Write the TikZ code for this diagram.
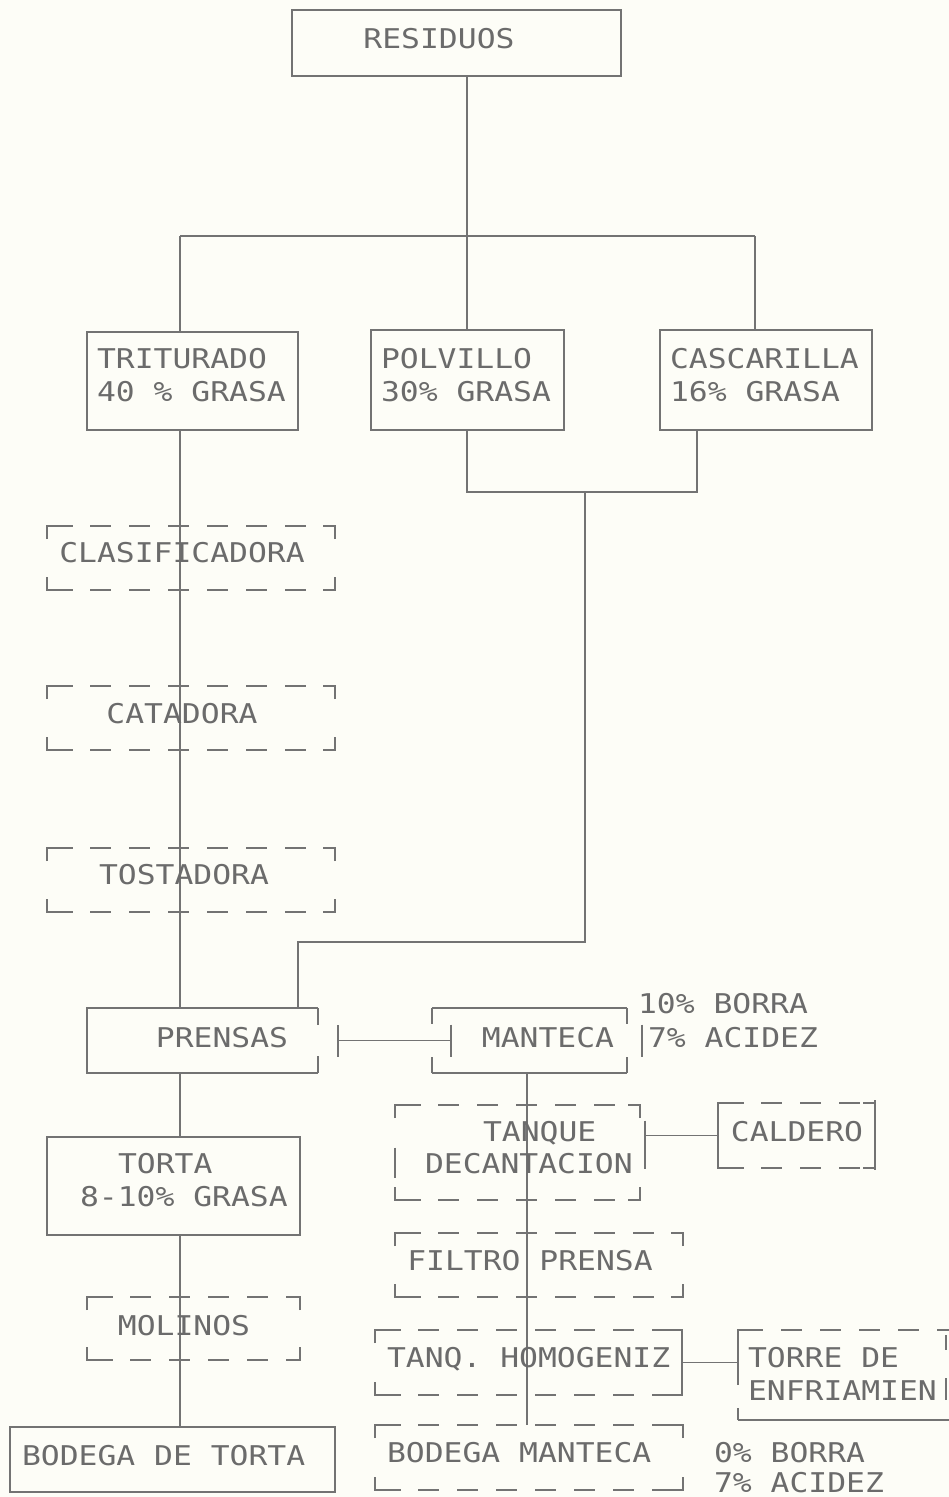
\documentclass[tikz,border=0pt]{standalone}
\usepackage{fontspec}
\usepackage{graphicx}
\usetikzlibrary{fit,calc,arrows.meta}
\newfontfamily\dmfont{DejaVu Sans Mono}
\definecolor{lc}{gray}{0.45}
\definecolor{tc}{gray}{0.42}
\definecolor{bgc}{RGB}{253,253,247}
\newcommand\dmt[1]{\scalebox{0.98}[0.85]{#1}}
\newcommand\mkbox[5]{\node[fit={(#2,#3) (#4,#5)}, inner sep=0pt, outer sep=0pt] (#1) {};}
\newcommand\solidbox[1]{\draw[ln] (#1.north west) rectangle (#1.south east);}
\newcommand\dashtb[1]{\draw[dsh] (#1.north west) -- (#1.north east);
  \draw[dsh] (#1.south west) -- (#1.south east);}
\newcommand\cornerticks[1]{%
  \draw[ln] ([yshift=-13pt]#1.north west) -- (#1.north west) -- ([xshift=26pt]#1.north west);
  \draw[ln] ([yshift=-13pt]#1.north east) -- (#1.north east) -- ([xshift=-12pt]#1.north east);
  \draw[ln] ([yshift=13pt]#1.south west) -- (#1.south west) -- ([xshift=26pt]#1.south west);
  \draw[ln] ([yshift=13pt]#1.south east) -- (#1.south east) -- ([xshift=-12pt]#1.south east);}
\newcommand\bracketbox[1]{\dashtb{#1}\cornerticks{#1}}
\tikzset{
  ln/.style={draw=lc, line width=1.6pt},
  dsh/.style={ln, dash pattern=on 21pt off 18pt, dash phase=-4pt},
  txt/.style={font=\dmfont\fontsize{32}{34}\selectfont, text=tc, inner sep=0pt, outer sep=0pt},
}
\begin{document}
\begin{tikzpicture}[x=1pt,y=-1pt]
\useasboundingbox (0,0) rectangle (949,1497);
\fill[bgc] (0,0) rectangle (949,1497);

% ---------- boxes ----------
\mkbox{res}{292}{10}{621}{76}
\mkbox{tri}{87}{332}{298}{430}
\mkbox{pol}{371}{330}{564}{430}
\mkbox{cas}{660}{330}{872}{430}
\mkbox{clas}{47}{526}{335}{590}
\mkbox{cat}{47}{686}{335}{750}
\mkbox{tost}{47}{848}{335}{912}
\mkbox{pren}{87}{1008}{318}{1073}
\mkbox{mant}{432}{1008}{627}{1073}
\mkbox{tanq}{395}{1105}{640}{1200}
\mkbox{cald}{718}{1103}{875}{1168}
\mkbox{torta}{47}{1137}{300}{1235}
\mkbox{filt}{395}{1233}{683}{1297}
\mkbox{mol}{87}{1297}{300}{1360}
\mkbox{hom}{375}{1330}{682}{1395}
\mkbox{torre}{738}{1330}{946}{1420}
\mkbox{bodt}{10}{1427}{335}{1492}
\mkbox{bodm}{375}{1425}{683}{1490}

\solidbox{res}
\solidbox{tri}
\solidbox{pol}
\solidbox{cas}
\solidbox{torta}
\solidbox{bodt}
\bracketbox{clas}
\bracketbox{cat}
\bracketbox{tost}
\bracketbox{filt}
\bracketbox{mol}
\bracketbox{bodm}

% PRENSAS
\draw[ln] (pren.north east) -- (pren.north west) -- (pren.south west) -- (pren.south east);
\draw[ln] (pren.north east) -- ++(0,17);
\draw[ln] (pren.south east) -- ++(0,-17);
% MANTECA
\draw[ln] (mant.north west) -- (mant.north east);
\draw[ln] (mant.south west) -- (mant.south east);
\draw[ln] (mant.north west) -- ++(0,16);
\draw[ln] (mant.south west) -- ++(0,-16);
\draw[ln] (mant.north east) -- ++(0,16);
\draw[ln] (mant.south east) -- ++(0,-16);
\draw[ln] (mant.east) ++(15,-16) -- ++(0,32);
% TANQUE DECANTACION
\bracketbox{tanq}
\draw[ln] (tanq.west) ++(0,-5) -- ++(0,30);
\coordinate (tqR) at ($(tanq.east)+(5,0)$);
\draw[ln] (tqR) ++(0,-32) -- ++(0,48);
% CALDERO
\bracketbox{cald}
\draw[ln] (cald.north west) -- (cald.south west);
\draw[ln] ([yshift=3pt]cald.north east) -- ([yshift=-2pt]cald.south east);
% TANQ. HOMOGENIZ
\bracketbox{hom}
\draw[ln] (hom.north east) -- (hom.south east);
% TORRE DE ENFRIAMIEN
\draw[dsh] (torre.north west) -- ([xshift=3pt]torre.north east);
\draw[ln] (torre.south west) -- ([xshift=3pt]torre.south east);
\draw[ln] ([xshift=14pt]torre.north west) -- (torre.north west) -- ++(0,55);
\draw[ln] (torre.south west) -- ++(0,-12);
\draw[ln] (torre.north east) ++(0,5) -- ++(0,15);
\draw[ln] (torre.north east) ++(0,48) -- ++(0,22);

% ---------- connectors ----------
\coordinate (jM) at (467,236);
\coordinate (jL) at (180,236);
\coordinate (jR) at (755,236);
\coordinate (jP) at (467,492);
\coordinate (xC) at (697,492);
\coordinate (jV) at (585,492);
\coordinate (jW) at (585,942);
\coordinate (xP) at (298,942);
\coordinate (xK) at (527,0);
\coordinate (xL) at (180,0);

\draw[ln] (res.south -| jM) -- (jM);
\draw[ln] (jL) -- (jR);
\draw[ln] (jL) -- (tri.north -| jL);
\draw[ln] (jM) -- (pol.north -| jM);
\draw[ln] (jR) -- (cas.north -| jR);
\draw[ln] (pol.south -| jP) -- (jP) -- (xC) -- (cas.south -| xC);
\draw[ln] (jV) -- (jW) -- (xP) -- (pren.north -| xP);
\draw[ln] (tri.south -| xL) -- (pren.north -| xL);
\draw[ln] (pren.south -| xL) -- (torta.north -| xL);
\draw[ln] (torta.south -| xL) -- (bodt.north -| xL);
\draw[ln] (mant.south -| xK) -- (bodm.north -| xK);
\draw[ln, {Bar[width=32pt]}-{Bar[width=32pt]}] ([xshift=19pt]pren.east) -- ([xshift=20pt]mant.west);
\draw[ln] (tqR |- cald.west) -- (cald.west);
\draw[ln] (hom.east) -- (hom.east -| torre.west);

% ---------- texts ----------
\node[txt, anchor=base] (t-res) at (439,48) {\dmt{RESIDUOS}};
\node[txt, anchor=base west] (t-tri1) at (97,368) {\dmt{TRITURADO}};
\node[txt, anchor=base west] (t-tri2) at (97,401) {\dmt{40 \% GRASA}};
\node[txt, anchor=base west] (t-pol1) at (381,368) {\dmt{POLVILLO}};
\node[txt, anchor=base west] (t-pol2) at (381,401) {\dmt{30\% GRASA}};
\node[txt, anchor=base west] (t-cas1) at (670,368) {\dmt{CASCARILLA}};
\node[txt, anchor=base west] (t-cas2) at (670,401) {\dmt{16\% GRASA}};
\node[txt, anchor=base] (t-clas) at (182,562) {\dmt{CLASIFICADORA}};
\node[txt, anchor=base] (t-cat) at (182,723) {\dmt{CATADORA}};
\node[txt, anchor=base] (t-tost) at (184,884) {\dmt{TOSTADORA}};
\node[txt, anchor=base] (t-pren) at (222,1047) {\dmt{PRENSAS}};
\node[txt, anchor=base] (t-mant) at (548,1047) {\dmt{MANTECA}};
\node[txt, anchor=base west] (t-b1) at (638,1013) {\dmt{10\% BORRA}};
\node[txt, anchor=base west] (t-a1) at (648,1047) {\dmt{7\% ACIDEZ}};
\node[txt, anchor=base west] (t-tq1) at (483,1141) {\dmt{TANQUE}};
\node[txt, anchor=base west] (t-tq2) at (425,1173) {\dmt{DECANTACION}};
\node[txt, anchor=base] (t-cald) at (797,1141) {\dmt{CALDERO}};
\node[txt, anchor=base west] (t-to1) at (118,1173) {\dmt{TORTA}};
\node[txt, anchor=base west] (t-to2) at (80,1206) {\dmt{8-10\% GRASA}};
\node[txt, anchor=base] (t-filt) at (530,1270) {\dmt{FILTRO PRENSA}};
\node[txt, anchor=base] (t-mol) at (184,1335) {\dmt{MOLINOS}};
\node[txt, anchor=base west] (t-hom) at (387,1367) {\dmt{TANQ. HOMOGENIZ}};
\node[txt, anchor=base west] (t-tr1) at (748,1367) {\dmt{TORRE DE}};
\node[txt, anchor=base west] (t-tr2) at (748,1400) {\dmt{ENFRIAMIEN}};
\node[txt, anchor=base west] (t-bodt) at (22,1465) {\dmt{BODEGA DE TORTA}};
\node[txt, anchor=base west] (t-bodm) at (387,1462) {\dmt{BODEGA MANTECA}};
\node[txt, anchor=base west] (t-b2) at (714,1462) {\dmt{0\% BORRA}};
\node[txt, anchor=base west] (t-a2) at (714,1492) {\dmt{7\% ACIDEZ}};
\end{tikzpicture}
\end{document}
